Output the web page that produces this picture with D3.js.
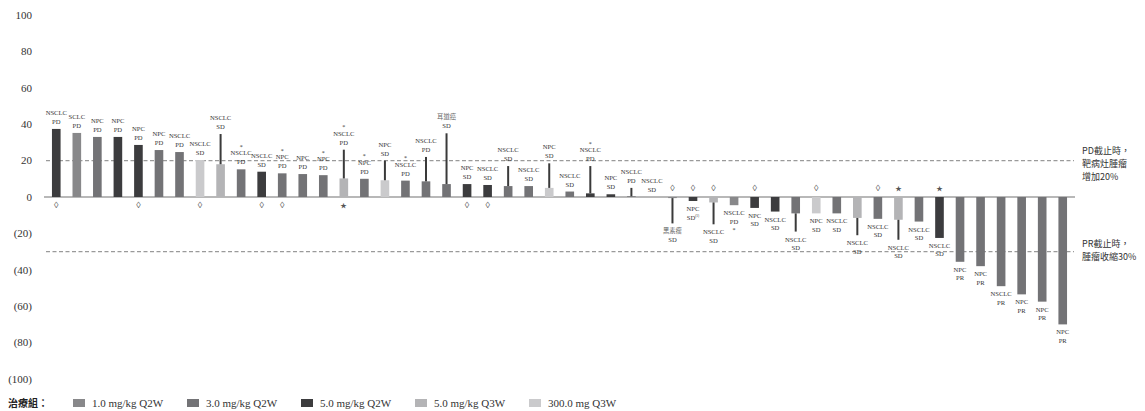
<!DOCTYPE html>
<html lang="zh-Hant">
<head>
<meta charset="UTF-8" />
<title>Waterfall</title>
<script src="https://cdn.jsdelivr.net/npm/d3@7"></script>
<style>
  body { margin: 0; background: #fff; }
  text { font-family: "Liberation Serif", "DejaVu Serif", serif; }
  .cjk { font-family: "Noto Sans CJK TC", sans-serif; }
</style>
</head>
<body>
<div id="container"></div>
<script>
// ---- data ----
const cancers = ['NSCLC','SCLC','NPC','NPC','NPC','NPC','NSCLC','NSCLC','NSCLC','NSCLC',
  'NSCLC','NPC','NPC','NPC','NSCLC','NPC','NPC','NSCLC','NSCLC','耳道癌',
  'NPC','NSCLC','NSCLC','NSCLC','NPC','NSCLC','NSCLC','NPC','NSCLC','NSCLC',
  '黑素瘤','NPC','NSCLC','NSCLC','NPC','NSCLC','NSCLC','NPC','NSCLC','NSCLC',
  'NSCLC','NSCLC','NSCLC','NSCLC','NPC','NPC','NSCLC','NPC','NPC','NPC']
const responses = ['PD','PD','PD','PD','PD','PD','PD','SD','SD','PD',
  'SD','PD','PD','PD','PD','PD','SD','PD','PD','SD',
  'SD','SD','SD','SD','SD','SD','PD','SD','PD','SD',
  'SD','SD','SD','PD','SD','SD','SD','SD','SD','SD',
  'SD','SD','SD','SD','PR','PR','PR','PR','PR','PR']
const values = [37.4, 35.2, 33, 33, 28.6, 25.8, 24.7, 20.3, 18, 15.2,
  13.9, 13, 12.6, 12, 10.2, 10, 9.2, 9, 8.6, 7.1,
  7.1, 6.6, 6, 6, 5, 3, 2, 1.5, 0.4, 0,
  -0.6, -2.2, -3, -4.5, -6, -8, -9, -9, -9, -11.5,
  -12, -12.5, -13.5, -22.5, -35.6, -38, -49, -53.5, -57.5, -70]
// range lines (null = none)
const lineEnds = [null, null, null, null, null, null, null, null, 34.6, null,
  null, null, null, null, 26, null, 20, null, 22, 35,
  null, null, 17, null, 18.5, null, 17, null, 5, null,
  -14.5, null, -15, null, null, null, -19, null, null, -21,
  null, -23.5, null, null, null, null, null, null, null, null]
// 0: 1.0 mg/kg Q2W, 1: 3.0 mg/kg Q2W, 2: 5.0 mg/kg Q2W, 3: 5.0 mg/kg Q3W, 4: 300.0 mg Q3W
const groups = [2, 0, 1, 2, 2, 1, 1, 4, 3, 1,
  2, 1, 1, 1, 3, 1, 4, 1, 1, 1,
  2, 2, 1, 1, 4, 1, 2, 2, 1, 1,
  0, 2, 3, 0, 2, 2, 1, 4, 1, 3,
  1, 3, 1, 2, 1, 1, 1, 1, 1, 1]
const asterisks = [10, 12, 14, 15, 16, 18, 27, 34]   // 1-based patient index
const diamonds = [1, 5, 8, 11, 12, 21, 22, 31, 32, 33, 35, 38, 41]
const stars = [15, 42, 44]
const superNote = { 32: '(1)' }
const groupNames = ['1.0 mg/kg Q2W', '3.0 mg/kg Q2W', '5.0 mg/kg Q2W', '5.0 mg/kg Q3W', '300.0 mg Q3W']
const groupColors = ['#88888a', '#737376', '#3c3c3e', '#b4b4b6', '#cacacc']
const yTicks = [100, 80, 60, 40, 20, 0, -20, -40, -60, -80, -100]
const thresholds = [20, -30]

const width = 1145, height = 411
const svg = d3.create('svg').attr('width', width).attr('height', height)

const x = d3.scaleBand()
  .domain(d3.range(values.length))
  .range([46, 1073])
  .paddingInner(0.58)
  .paddingOuter(0.29)
const y = d3.scaleLinear().domain([-100, 100]).range([379, 15])
const cx = i => x(i) + x.bandwidth() / 2

// y tick labels
svg.append('g').selectAll('text').data(yTicks).join('text')
  .attr('x', 32).attr('y', d => y(d)).attr('dy', '0.35em')
  .attr('text-anchor', 'end').attr('font-size', 11).attr('fill', '#333')
  .text(d => d < 0 ? `(${-d})` : d)

// threshold dashed lines
svg.append('g').selectAll('line').data(thresholds).join('line')
  .attr('x1', 46).attr('x2', 1074).attr('y1', d => y(d)).attr('y2', d => y(d))
  .attr('stroke', '#9a9a9a').attr('stroke-width', 1.2).attr('stroke-dasharray', '4,2.5')

// zero axis
svg.append('line').attr('x1', 44).attr('x2', 1075).attr('y1', y(0)).attr('y2', y(0))
  .attr('stroke', '#a0a0a0').attr('stroke-width', 1.5)

const idx = d3.range(values.length)

// bars
svg.append('g').selectAll('rect').data(idx).join('rect')
  .attr('x', i => x(i)).attr('width', x.bandwidth())
  .attr('y', i => y(Math.max(0, values[i])))
  .attr('height', i => Math.abs(y(values[i]) - y(0)))
  .attr('fill', i => groupColors[groups[i]])

// range lines
svg.append('g').selectAll('line').data(idx.filter(i => lineEnds[i] !== null)).join('line')
  .attr('x1', cx).attr('x2', cx)
  .attr('y1', i => y(values[i])).attr('y2', i => y(lineEnds[i]))
  .attr('stroke', '#3a3a3a').attr('stroke-width', 2)

// labels
const lab = svg.append('g').attr('font-size', 6.6).attr('fill', '#333').attr('text-anchor', 'middle')
idx.forEach(i => {
  const le = lineEnds[i]
  const pos = values[i] >= 0
  const edge = pos ? Math.max(values[i], le ?? values[i]) : Math.min(values[i], le ?? values[i])
  const ey = y(edge)
  const isCjk = /[\u4e00-\u9fff]/.test(cancers[i])
  const y1 = pos ? ey - 14 : ey + 10
  const y2 = pos ? ey - 5 : ey + 18.5
  lab.append('text').attr('x', cx(i)).attr('y', y1)
    .attr('class', isCjk ? 'cjk' : null).attr('fill', isCjk ? '#666' : null)
    .attr('font-size', isCjk ? 6.3 : null)
    .text(cancers[i])
  const t2 = lab.append('text').attr('x', cx(i)).attr('y', y2).text(responses[i])
  if (superNote[i + 1]) {
    t2.append('tspan').attr('font-size', 3.5).attr('dy', -2.5).text(superNote[i + 1])
  }
  if (asterisks.includes(i + 1)) {
    lab.append('text').attr('x', cx(i)).attr('y', pos ? y1 - 6.5 : y2 + 8)
      .attr('font-size', 6).text('*')
  }
})

// diamond / star markers
const mk = svg.append('g').attr('text-anchor', 'middle').attr('fill', '#555')
idx.forEach(i => {
  const m = diamonds.includes(i + 1) ? '◊' : stars.includes(i + 1) ? '★' : null
  if (!m) return
  mk.append('text').attr('x', cx(i))
    .attr('y', values[i] >= 0 ? y(0) + 11 : y(0) - 6)
    .attr('font-size', m === '◊' ? 9 : 7)
    .attr('font-family', 'DejaVu Sans')
    .text(m)
})

// right-side notes
const notes = [
  { lines: ['PD截止時，', '靶病灶腫瘤', '增加20%'], y0: 154 },
  { lines: ['PR截止時，', '腫瘤收縮30%'], y0: 246.5 }
]
notes.forEach(n => {
  svg.append('g').selectAll('text').data(n.lines).join('text')
    .attr('class', 'cjk').attr('x', 1082).attr('y', (d, k) => n.y0 + k * 13.2)
    .attr('font-size', 9).attr('fill', '#333').text(d => d)
})

// legend
svg.append('text').attr('class', 'cjk').attr('x', 8).attr('y', 407)
  .attr('font-size', 10).attr('font-weight', 700).attr('fill', '#222').text('治療組：')
const lg = svg.append('g').selectAll('g').data(groupNames).join('g')
  .attr('transform', (d, k) => `translate(${73 + k * 114},399)`)
lg.append('rect').attr('width', 12).attr('height', 8).attr('fill', (d, k) => groupColors[k])
lg.append('text').attr('x', 19).attr('y', 8).attr('font-size', 11).attr('fill', '#333').text(d => d)

document.getElementById('container').append(svg.node())
</script>
</body>
</html>
